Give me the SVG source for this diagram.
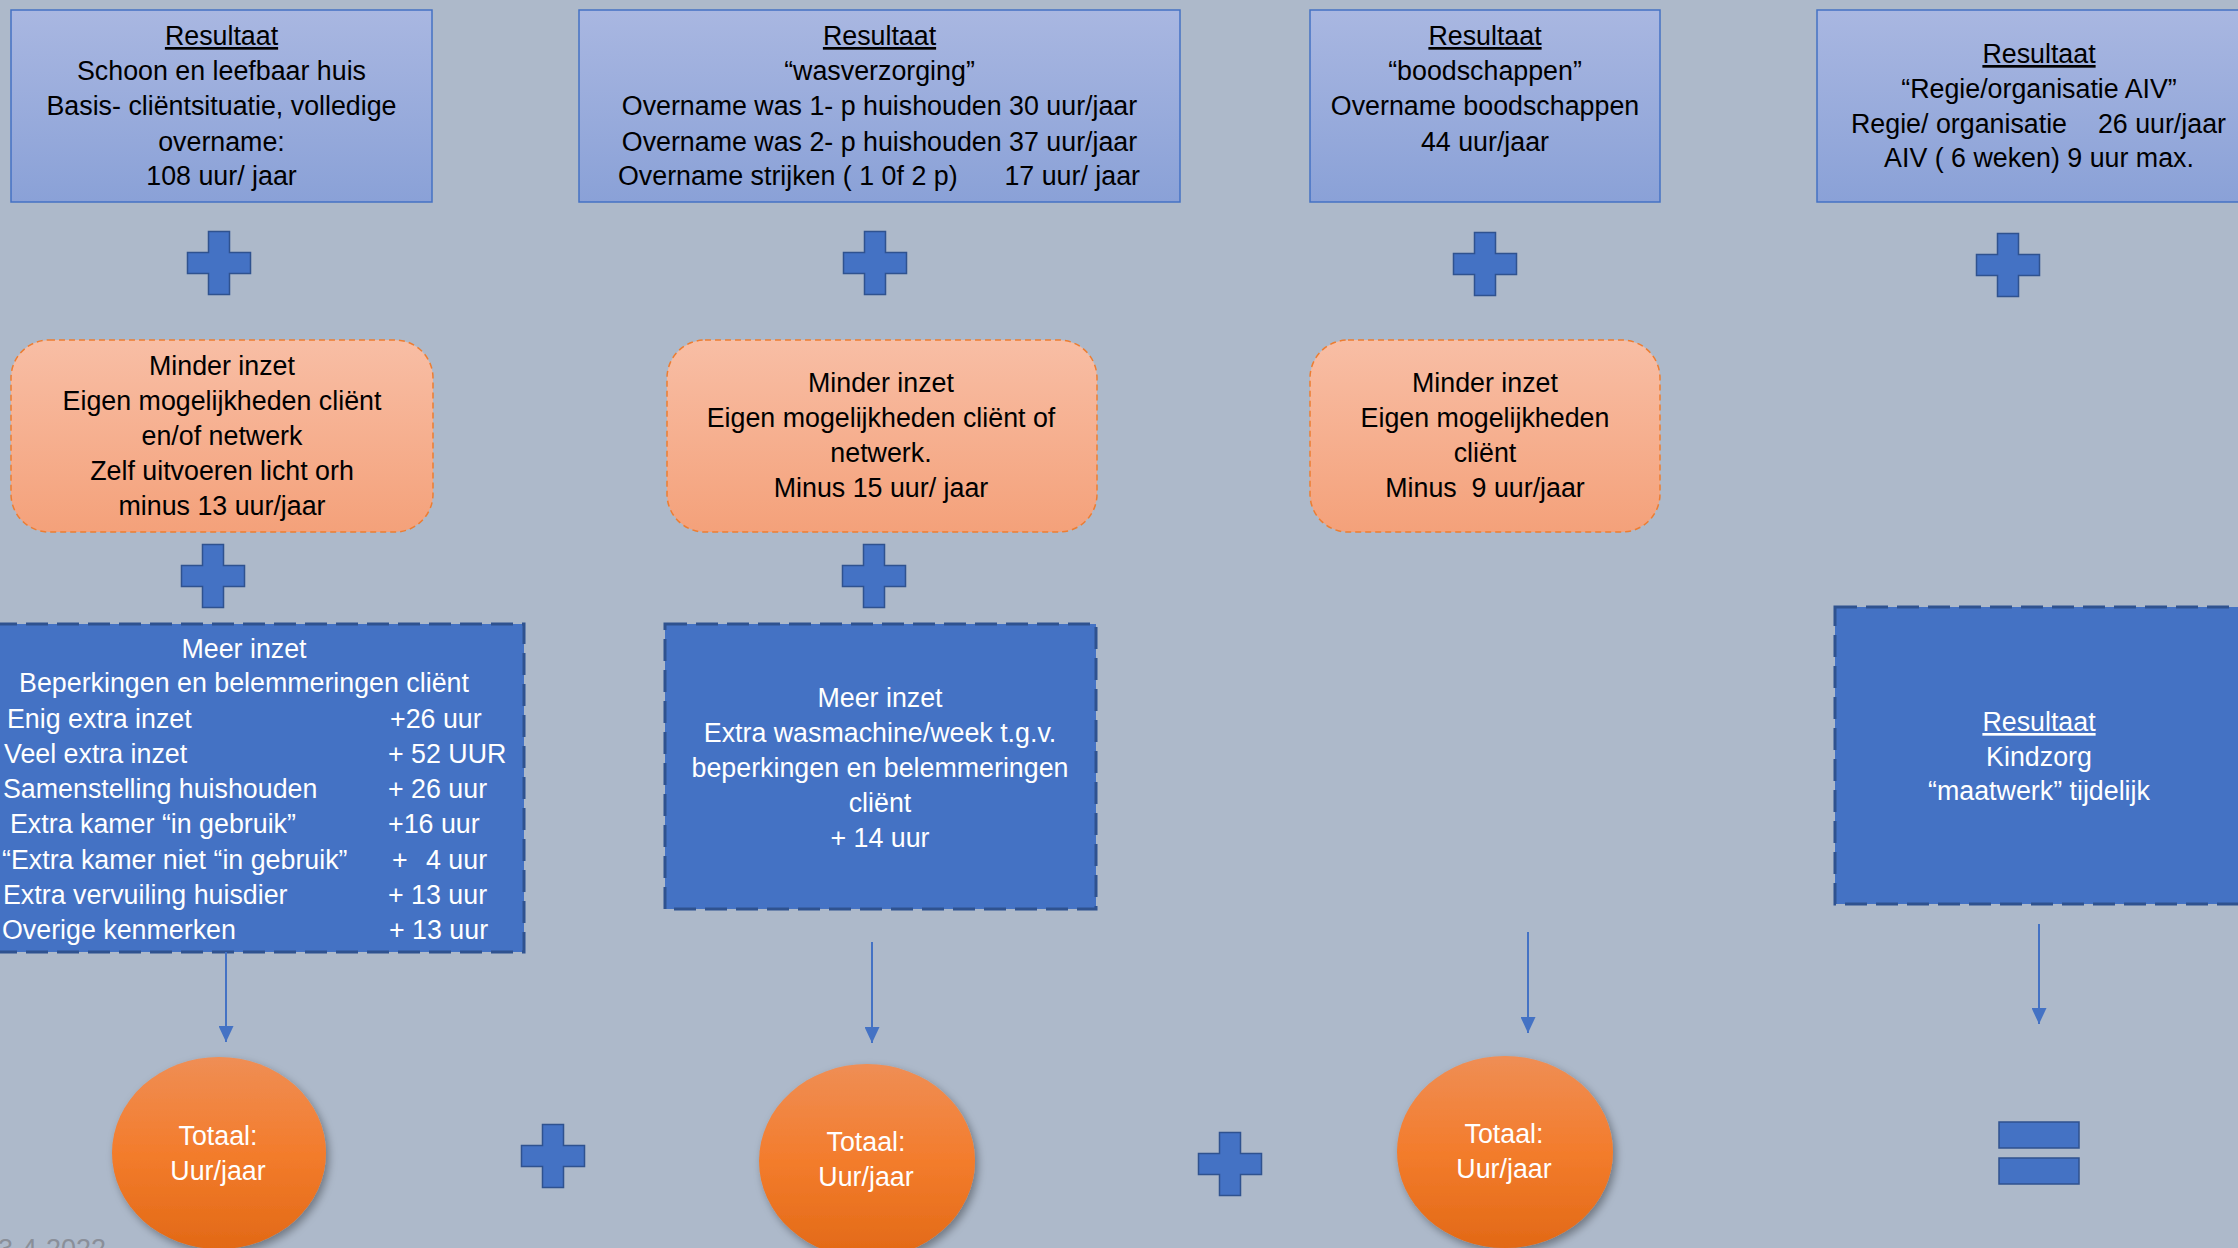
<svg xmlns="http://www.w3.org/2000/svg" width="2238" height="1248" viewBox="0 0 2238 1248">
<style>
  text { font-family: "Liberation Sans", Arial, sans-serif; font-size: 26.8px; }
  .dk { fill: #000000; }
  .wt { fill: #FFFFFF; }
  .c { text-anchor: middle; }
  .e { text-anchor: end; }
  .u { text-decoration: underline; }
  .res { fill: url(#gRes); stroke: #4472C4; stroke-width: 1.5; }
  .min { fill: url(#gMin); stroke: #ED7D31; stroke-width: 1.5; stroke-dasharray: 6 4; }
  .meer { fill: #4472C4; stroke: #2F528F; stroke-width: 3; stroke-dasharray: 22 9; }
  .tot { fill: url(#gTot); filter: url(#shadow); }
  .op { fill: #4472C4; stroke: #2F528F; stroke-width: 1.5; }
  .conn { stroke: #4472C4; stroke-width: 2; fill: none; marker-end: url(#arrow); }
</style>
<defs>
  <linearGradient id="gRes" x1="0" y1="0" x2="0" y2="1">
    <stop offset="0" stop-color="#A9B7E1"/>
    <stop offset="1" stop-color="#8AA1D7"/>
  </linearGradient>
  <linearGradient id="gMin" x1="0" y1="0" x2="0" y2="1">
    <stop offset="0" stop-color="#F8BEA5"/>
    <stop offset="1" stop-color="#F4A17A"/>
  </linearGradient>
  <linearGradient id="gTot" x1="0" y1="0" x2="0" y2="1">
    <stop offset="0" stop-color="#EF8E55"/>
    <stop offset="0.5" stop-color="#F37C2C"/>
    <stop offset="1" stop-color="#E26916"/>
  </linearGradient>
  <filter id="shadow" x="-20%" y="-20%" width="140%" height="140%">
    <feDropShadow dx="3" dy="4" stdDeviation="4" flood-color="#000000" flood-opacity="0.35"/>
  </filter>
  <marker id="arrow" viewBox="0 0 16 15" refX="16" refY="7.5" markerWidth="16" markerHeight="15" orient="auto" markerUnits="userSpaceOnUse">
    <path d="M0,0 L16,7.5 L0,15 z" fill="#4472C4"/>
  </marker>
  <path id="plus" d="M-10.5,-31.5 h21 v21 h21 v21 h-21 v21 h-21 v-21 h-21 v-21 h21 z"/>
</defs>

<rect x="0" y="0" width="2238" height="1248" fill="#ADB9CA"/>

<!-- Row 1: Resultaat boxes -->
<g id="res1">
  <rect class="res" x="11" y="10" width="421" height="192"/>
  <text class="dk c" x="221.5" y="45"><tspan class="u">Resultaat</tspan></text>
  <text class="dk c" x="221.5" y="80">Schoon en leefbaar huis</text>
  <text class="dk c" x="221.5" y="115">Basis- cliëntsituatie, volledige</text>
  <text class="dk c" x="221.5" y="151">overname:</text>
  <text class="dk c" x="221.5" y="185">108 uur/ jaar</text>
</g>
<g id="res2">
  <rect class="res" x="579" y="10" width="601" height="192"/>
  <text class="dk c" x="879.5" y="45"><tspan class="u">Resultaat</tspan></text>
  <text class="dk c" x="879.5" y="80">“wasverzorging”</text>
  <text class="dk c" x="879.5" y="115">Overname was 1- p huishouden 30 uur/jaar</text>
  <text class="dk c" x="879.5" y="151">Overname was 2- p huishouden 37 uur/jaar</text>
  <text class="dk" x="618" y="185">Overname strijken ( 1 0f 2 p)</text>
  <text class="dk e" x="1140" y="185">17 uur/ jaar</text>
</g>
<g id="res3">
  <rect class="res" x="1310" y="10" width="350" height="192"/>
  <text class="dk c" x="1485" y="45"><tspan class="u">Resultaat</tspan></text>
  <text class="dk c" x="1485" y="80">“boodschappen”</text>
  <text class="dk c" x="1485" y="115">Overname boodschappen</text>
  <text class="dk c" x="1485" y="151">44 uur/jaar</text>
</g>
<g id="res4">
  <rect class="res" x="1817" y="10" width="445" height="192"/>
  <text class="dk c" x="2039" y="63"><tspan class="u">Resultaat</tspan></text>
  <text class="dk c" x="2039" y="98">“Regie/organisatie AIV”</text>
  <text class="dk" x="1851" y="133">Regie/ organisatie</text>
  <text class="dk e" x="2226" y="133">26 uur/jaar</text>
  <text class="dk c" x="2039" y="167">AIV ( 6 weken) 9 uur max.</text>
</g>

<!-- Plus signs row 1 -->
<g id="plus-r1c1"><use href="#plus" class="op" transform="translate(219,263)"/></g>
<g id="plus-r1c2"><use href="#plus" class="op" transform="translate(875,263)"/></g>
<g id="plus-r1c3"><use href="#plus" class="op" transform="translate(1485,264)"/></g>
<g id="plus-r1c4"><use href="#plus" class="op" transform="translate(2008,265)"/></g>

<!-- Row 2: Minder inzet -->
<g id="min1">
  <rect class="min" x="11" y="340" width="422" height="192" rx="38" ry="38"/>
  <text class="dk c" x="222" y="375">Minder inzet</text>
  <text class="dk c" x="222" y="410">Eigen mogelijkheden cliënt</text>
  <text class="dk c" x="222" y="445">en/of netwerk</text>
  <text class="dk c" x="222" y="480">Zelf uitvoeren licht orh</text>
  <text class="dk c" x="222" y="515">minus 13 uur/jaar</text>
</g>
<g id="min2">
  <rect class="min" x="667" y="340" width="430" height="192" rx="38" ry="38"/>
  <text class="dk c" x="881" y="392">Minder inzet</text>
  <text class="dk c" x="881" y="427">Eigen mogelijkheden cliënt of</text>
  <text class="dk c" x="881" y="462">netwerk.</text>
  <text class="dk c" x="881" y="497">Minus 15 uur/ jaar</text>
</g>
<g id="min3">
  <rect class="min" x="1310" y="340" width="350" height="192" rx="38" ry="38"/>
  <text class="dk c" x="1485" y="392">Minder inzet</text>
  <text class="dk c" x="1485" y="427">Eigen mogelijkheden</text>
  <text class="dk c" x="1485" y="462">cliënt</text>
  <text class="dk c" x="1485" y="497" xml:space="preserve">Minus  9 uur/jaar</text>
</g>

<!-- Plus signs row 2 -->
<g id="plus-r2c1"><use href="#plus" class="op" transform="translate(213,576)"/></g>
<g id="plus-r2c2"><use href="#plus" class="op" transform="translate(874,576)"/></g>

<!-- Row 3: Meer inzet -->
<g id="meer1">
  <rect class="meer" x="-36" y="624" width="560" height="328"/>
  <text class="wt c" x="244" y="658">Meer inzet</text>
  <text class="wt c" x="244" y="692">Beperkingen en belemmeringen cliënt</text>
  <text class="wt" x="7" y="728">Enig extra inzet</text>
  <text class="wt" x="390" y="728">+26 uur</text>
  <text class="wt" x="4" y="763">Veel extra inzet</text>
  <text class="wt" x="388" y="763">+ 52 UUR</text>
  <text class="wt" x="3" y="798">Samenstelling huishouden</text>
  <text class="wt" x="388" y="798">+ 26 uur</text>
  <text class="wt" x="10" y="833">Extra kamer “in gebruik”</text>
  <text class="wt" x="388" y="833">+16 uur</text>
  <text class="wt" x="2" y="869">“Extra kamer niet “in gebruik”</text>
  <text class="wt" x="392" y="869">+</text>
  <text class="wt" x="426" y="869">4 uur</text>
  <text class="wt" x="3" y="904">Extra vervuiling huisdier</text>
  <text class="wt" x="388" y="904">+ 13 uur</text>
  <text class="wt" x="2" y="939">Overige kenmerken</text>
  <text class="wt" x="389" y="939">+ 13 uur</text>
</g>
<g id="meer2">
  <rect class="meer" x="665" y="624" width="431" height="285"/>
  <text class="wt c" x="880" y="707">Meer inzet</text>
  <text class="wt c" x="880" y="742">Extra wasmachine/week t.g.v.</text>
  <text class="wt c" x="880" y="777">beperkingen en belemmeringen</text>
  <text class="wt c" x="880" y="812">cliënt</text>
  <text class="wt c" x="880" y="847">+ 14 uur</text>
</g>
<g id="kindzorg">
  <rect class="meer" x="1835" y="607" width="410" height="297"/>
  <text class="wt c" x="2039" y="731"><tspan class="u">Resultaat</tspan></text>
  <text class="wt c" x="2039" y="766">Kindzorg</text>
  <text class="wt c" x="2039" y="800">“maatwerk” tijdelijk</text>
</g>

<!-- Connectors -->
<g id="connectors">
  <line class="conn" x1="226" y1="952" x2="226" y2="1042"/>
  <line class="conn" x1="872" y1="942" x2="872" y2="1043"/>
  <line class="conn" x1="1528" y1="932" x2="1528" y2="1033"/>
  <line class="conn" x1="2039" y1="924" x2="2039" y2="1024"/>
</g>

<!-- Totals -->
<g id="totaal1">
  <ellipse class="tot" cx="219" cy="1153" rx="107" ry="96"/>
  <text class="wt c" x="218" y="1145">Totaal:</text>
  <text class="wt c" x="218" y="1180">Uur/jaar</text>
</g>
<g id="totaal2">
  <ellipse class="tot" cx="867" cy="1161" rx="108" ry="97"/>
  <text class="wt c" x="866" y="1151">Totaal:</text>
  <text class="wt c" x="866" y="1186">Uur/jaar</text>
</g>
<g id="totaal3">
  <ellipse class="tot" cx="1505" cy="1152" rx="108" ry="96"/>
  <text class="wt c" x="1504" y="1143">Totaal:</text>
  <text class="wt c" x="1504" y="1178">Uur/jaar</text>
</g>

<!-- Operators row 3 -->
<g id="plus-r3a"><use href="#plus" class="op" transform="translate(553,1156)"/></g>
<g id="plus-r3b"><use href="#plus" class="op" transform="translate(1230,1164)"/></g>
<g id="equals">
  <rect class="op" x="1999" y="1122" width="80" height="26" stroke-width="2"/>
  <rect class="op" x="1999" y="1158" width="80" height="26" stroke-width="2"/>
</g>

<!-- Date footer -->
<text x="-2" y="1258" fill="#8A8F99" style="font-size:27px">3-4-2022</text>
</svg>
